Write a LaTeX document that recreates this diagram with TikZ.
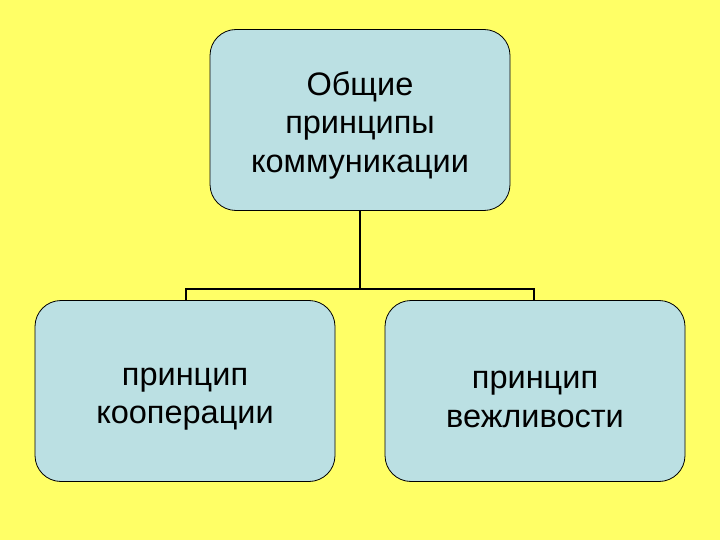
\documentclass[tikz,border=0pt]{standalone}
\usepackage{fontspec}
\setmainfont{Liberation Sans}
\usepackage{tikz}
\usetikzlibrary{positioning,calc}
\definecolor{slidebg}{RGB}{255,255,102}
\definecolor{boxfill}{RGB}{187,224,227}
% strut that pushes the text a little lower in its box
\newcommand{\toppad}{\rule{0pt}{34pt}}

\tikzset{
  box/.style={draw=black,line width=0.8pt,fill=boxfill,rounded corners=26pt,
    minimum width=300pt,minimum height=181pt,align=center,
    font=\fontsize{32.5}{38.5}\selectfont},
  link/.style={draw=black,line width=1.6pt}
}

\begin{document}
\begin{tikzpicture}[x=1pt,y=-1pt]
% Background
\fill[slidebg] (0,0) rectangle (720,540);
\useasboundingbox (0,0) rectangle (720,540);

% Boxes
\node[box] (top) at (360,120) {\toppad Общие\\принципы\\коммуникации};
\node[box] (coop) at (185,391) {\toppad принцип\\кооперации};
\node[box] (polite) at (535,391) {\toppad принцип\\вежливости};

% Connectors
\coordinate (jl) at (186,289);
\coordinate (jr) at (534,289);
\draw[link] (top.south) -- (top.south |- jl);
\draw[link,line cap=rect] (jl) -- (jr);
\draw[link] (jl) -- (jl |- coop.north);
\draw[link] (jr) -- (jr |- polite.north);
\end{tikzpicture}
\end{document}
